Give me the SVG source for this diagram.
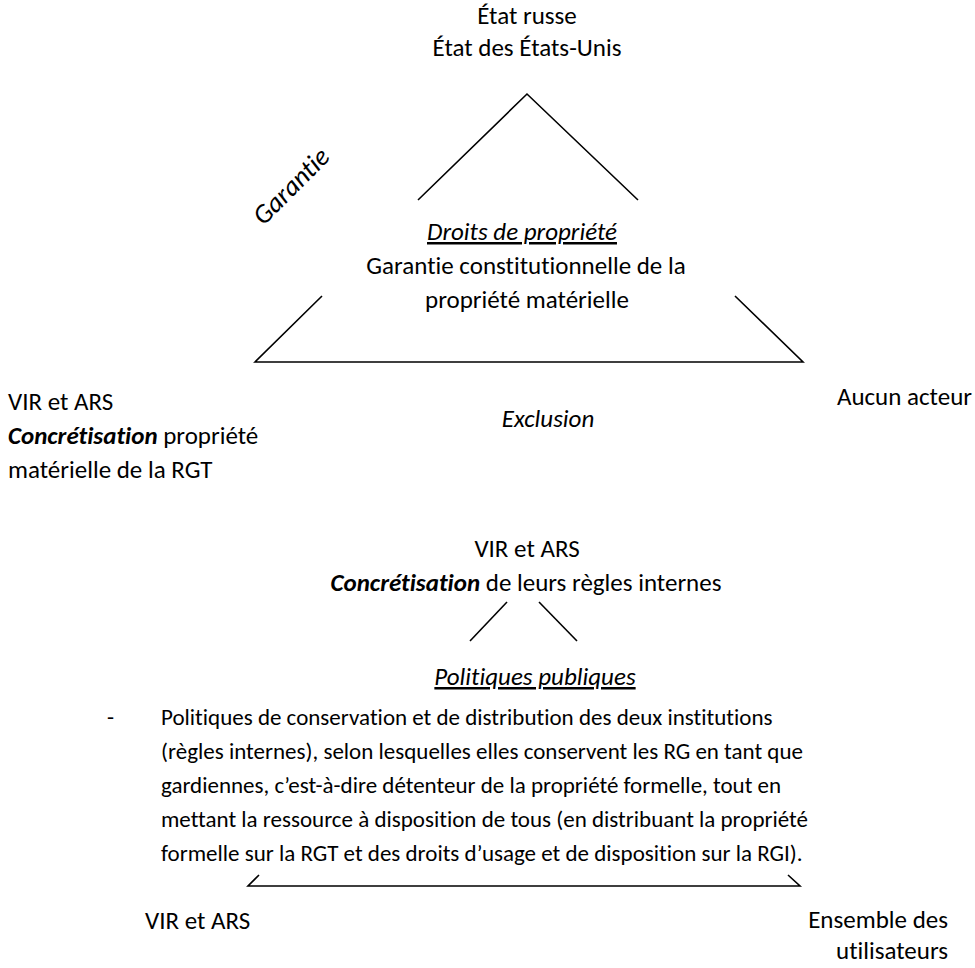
<svg xmlns="http://www.w3.org/2000/svg" width="975" height="968" viewBox="0 0 975 968">
  <style>
    text { font-family: Carlito, Lato, "Liberation Sans", sans-serif; font-size: 25px; fill: #000; font-variant-ligatures: none; }
    .c { text-anchor: middle; }
    .e { text-anchor: end; }
    .i { font-style: italic; }
    .b { font-weight: bold; font-style: italic; }
    .u { text-decoration: underline; }
    .p { font-size: 23px; }
    .g { font-size: 27px; font-style: italic; text-anchor: middle; }
    .ln { stroke: #000; stroke-width: 1.6; fill: none; stroke-linecap: butt; }
  </style>
  <rect width="975" height="968" fill="#fff"/>

  <!-- connectors: property-rights triangle and public-policy triangle -->
  <g id="connectors">
    <polyline class="ln" points="418,200 527,94 638,200"/>
    <polyline class="ln" points="322,296 255,362 803,362 735,296"/>
    <line class="ln" x1="507" y1="602" x2="470" y2="641"/>
    <line class="ln" x1="539" y1="602" x2="577" y2="641"/>
    <polyline class="ln" points="259,875 248,886 800,886 788,875"/>
  </g>

  <g id="etats">
    <text class="c" x="527" y="24">État russe</text>
    <text class="c" x="527" y="56">État des États-Unis</text>
  </g>

  <g id="garantie">
    <text class="g" transform="translate(291,186) rotate(-45)" x="0" y="9">Garantie</text>
  </g>

  <g id="droits-propriete">
    <text class="c i u" x="522" y="240">Droits de propriété</text>
    <text class="c" x="526" y="274">Garantie constitutionnelle de la</text>
    <text class="c" x="527" y="308">propriété matérielle</text>
  </g>

  <g id="vir-ars-rgt">
    <text x="8" y="410">VIR et ARS</text>
    <text x="8" y="444"><tspan class="b">Concrétisation</tspan> propriété</text>
    <text x="8" y="478">matérielle de la RGT</text>
  </g>

  <g id="exclusion">
    <text class="c i" x="548" y="427">Exclusion</text>
  </g>

  <g id="aucun-acteur">
    <text class="e" x="972" y="405">Aucun acteur</text>
  </g>

  <g id="vir-ars-regles">
    <text class="c" x="527" y="557">VIR et ARS</text>
    <text class="c" x="526" y="591"><tspan class="b">Concrétisation</tspan> de leurs règles internes</text>
  </g>

  <g id="politiques-publiques">
    <text class="c i u" x="535" y="685">Politiques publiques</text>
    <text class="p" x="107" y="725">-</text>
    <text class="p" x="161" y="725">Politiques de conservation et de distribution des deux institutions</text>
    <text class="p" x="161" y="759">(règles internes), selon lesquelles elles conservent les RG en tant que</text>
    <text class="p" x="161" y="793">gardiennes, c’est-à-dire détenteur de la propriété formelle, tout en</text>
    <text class="p" x="161" y="827">mettant la ressource à disposition de tous (en distribuant la propriété</text>
    <text class="p" x="161" y="861">formelle sur la RGT et des droits d’usage et de disposition sur la RGI).</text>
  </g>

  <g id="vir-ars-bas">
    <text x="145" y="929">VIR et ARS</text>
  </g>

  <g id="utilisateurs">
    <text class="e" x="948" y="928">Ensemble des</text>
    <text class="e" x="948" y="959">utilisateurs</text>
  </g>
</svg>
